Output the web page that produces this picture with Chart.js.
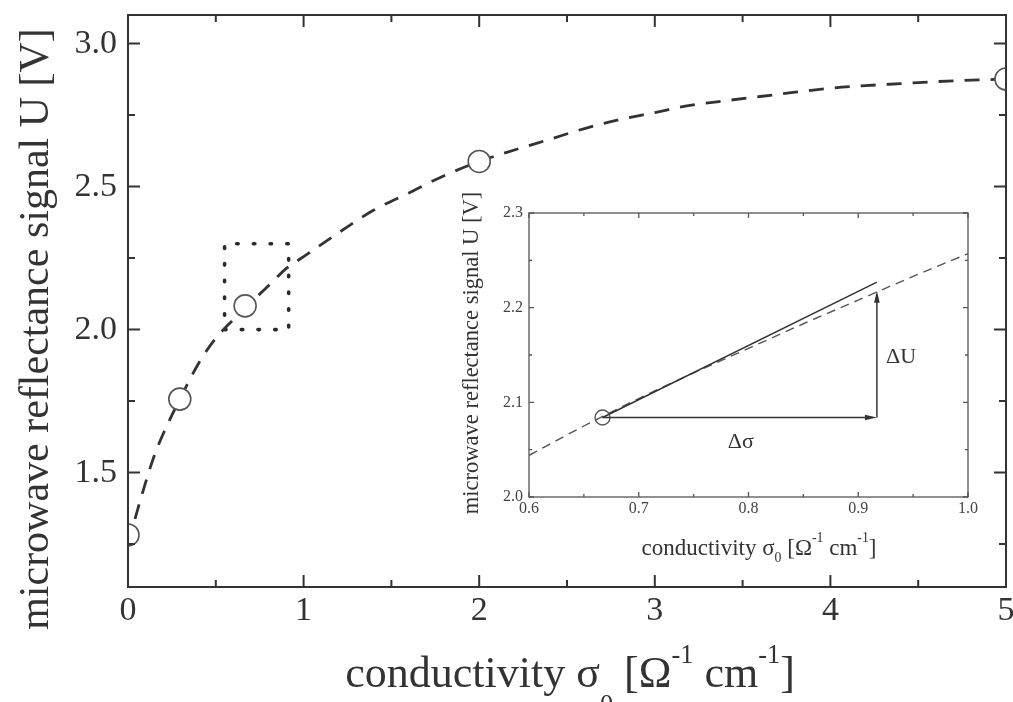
<!DOCTYPE html>
<html>
<head>
<meta charset="utf-8">
<script src="https://cdn.jsdelivr.net/npm/chart.js@4.4.1/dist/chart.umd.min.js"></script>
<style>
  html, body { margin: 0; padding: 0; background: #fff; }
  #wrap { position: relative; width: 1013px; height: 702px; overflow: hidden; }
  #main { position: absolute; left: 0; top: 0; }
  #inset { position: absolute; left: 455px; top: 180px; }
</style>
</head>
<body>
<div id="wrap">
  <canvas id="main" width="1013" height="702"></canvas>
  <canvas id="inset" width="540" height="395"></canvas>
</div>
<script>
/* ============================================================
   DATA
============================================================ */

// main panel: measured points
const pointX = [0.0, 0.295, 0.667, 2.0, 5.0];
const pointY = [1.282, 1.757, 2.083, 2.588, 2.876];

// main panel: dashed fit curve
const curveX = [0, 0.05, 0.1, 0.15, 0.2, 0.3, 0.4, 0.5, 0.6, 0.7, 0.8, 0.9, 1.0, 1.2, 1.4, 1.6, 1.8,
                2.0, 2.2, 2.4, 2.6, 2.8, 3.0, 3.2, 3.4, 3.6, 3.8, 4.0, 4.2, 4.4, 4.6, 4.8, 5.0];
const curveY = [1.25, 1.36, 1.465, 1.56, 1.635, 1.762, 1.88, 1.97, 2.035, 2.095, 2.153, 2.213, 2.255,
                2.339, 2.418, 2.478, 2.538, 2.588, 2.628, 2.665, 2.703, 2.734, 2.759, 2.784, 2.80,
                2.815, 2.83, 2.844, 2.853, 2.86, 2.867, 2.872, 2.876];

// main panel: dotted zoom box
const boxX = [0.55, 0.915, 0.915, 0.55, 0.55];
const boxY = [2.0, 2.0, 2.3, 2.3, 2.0];

// main panel ticks
const mainXMajor = [0, 1, 2, 3, 4, 5];
const mainXMinor = [0.5, 1.5, 2.5, 3.5, 4.5];
const mainYMajor = [1.5, 2.0, 2.5, 3.0];
const mainYMinor = [1.25, 1.75, 2.25, 2.75];

// inset: dashed curve, point, tangent, arrows
const insetCurveX = [0.6, 0.65, 0.7, 0.75, 0.8, 0.85, 0.9, 0.95, 1.0];
const insetCurveY = [2.044, 2.075, 2.104, 2.131, 2.157, 2.183, 2.208, 2.233, 2.257];
const insetPointX = [0.667];
const insetPointY = [2.084];
const tangentX = [0.667, 0.917];
const tangentY = [2.084, 2.227];
const dSigmaX = [0.667, 0.917];
const dSigmaY = [2.084, 2.084];
const dUX = [0.917, 0.917];
const dUY = [2.084, 2.218];
const insetLabels = [
  { text: 'Δσ', x: 0.793, y: 2.058 },
  { text: 'ΔU', x: 0.939, y: 2.148 },
];

// inset ticks
const insetXMajor = [0.6, 0.7, 0.8, 0.9, 1.0];
const insetXMinor = [0.65, 0.75, 0.85, 0.95];
const insetYMajor = [2.0, 2.1, 2.2, 2.3];
const insetYMinor = [2.05, 2.15, 2.25];

/* ============================================================
   HELPERS
============================================================ */
const SERIF = '"Liberation Serif", "Times New Roman", serif';
const INK = '#333';

const xy = (xs, ys) => xs.map((x, i) => ({ x, y: ys[i] }));

const xTitle = [
  { t: 'conductivity σ' }, { t: '0', s: 'sub' }, { t: ' [Ω' }, { t: '-1', s: 'sup' },
  { t: ' cm' }, { t: '-1', s: 'sup' }, { t: ']' }
];
const yTitle = [{ t: 'microwave reflectance signal U [V]' }];

// centred text with sub/superscripts, optional rotation
function richText(ctx, parts, x, y, size, rot, subDrop = 0.6) {
  ctx.save();
  ctx.translate(x, y);
  if (rot) ctx.rotate(rot);
  ctx.fillStyle = INK;
  ctx.textBaseline = 'alphabetic';
  ctx.textAlign = 'left';
  const fs = p => (p.s ? size * 0.6 : size);
  let w = 0;
  parts.forEach(p => { ctx.font = fs(p) + 'px ' + SERIF; w += ctx.measureText(p.t).width; });
  let cx = -w / 2;
  parts.forEach(p => {
    ctx.font = fs(p) + 'px ' + SERIF;
    const dy = p.s === 'sub' ? size * subDrop : p.s === 'sup' ? -size * 0.55 : 0;
    ctx.fillText(p.t, cx, dy);
    cx += ctx.measureText(p.t).width;
  });
  ctx.restore();
}

// box around the plot with inward ticks on all four sides
function framePlugin(o) {
  return {
    id: 'frame',
    afterDatasetsDraw(chart) {
      const { ctx, chartArea: a, scales: { x, y } } = chart;
      ctx.save();
      ctx.strokeStyle = o.color;
      ctx.lineWidth = o.width;
      ctx.beginPath();
      const tick = (vals, len, horiz) => vals.forEach(v => {
        if (horiz) {
          const p = x.getPixelForValue(v);
          ctx.moveTo(p, a.bottom); ctx.lineTo(p, a.bottom - len);
          ctx.moveTo(p, a.top); ctx.lineTo(p, a.top + len);
        } else {
          const p = y.getPixelForValue(v);
          ctx.moveTo(a.left, p); ctx.lineTo(a.left + len, p);
          ctx.moveTo(a.right, p); ctx.lineTo(a.right - len, p);
        }
      });
      tick(o.xMajor, o.major, true);
      tick(o.xMinor, o.minor, true);
      tick(o.yMajor, o.major, false);
      tick(o.yMinor, o.minor, false);
      ctx.stroke();
      ctx.strokeRect(a.left, a.top, a.right - a.left, a.bottom - a.top);
      ctx.restore();
    }
  };
}

function axis(min, max, ticks, fmt, size, pad, color, fit) {
  return {
    type: 'linear', min, max,
    grid: { display: false, drawTicks: false },
    border: { display: false },
    afterBuildTicks: s => { s.ticks = ticks.map(v => ({ value: v })); },
    ticks: { autoSkip: false, maxRotation: 0, padding: pad, color, font: { family: SERIF, size }, callback: fmt },
    afterFit: s => {
      fit(s);
      s.paddingLeft = s.paddingRight = s.paddingTop = s.paddingBottom = 0;
    }
  };
}

const baseOptions = {
  responsive: false,
  animation: false,
  events: [],
  plugins: { legend: { display: false }, tooltip: { enabled: false } },
};

/* ============================================================
   MAIN PANEL
============================================================ */
new Chart(document.getElementById('main'), {
  type: 'scatter',
  data: {
    datasets: [
      {
        data: xy(pointX, pointY), showLine: false,
        pointRadius: 11, pointBorderWidth: 1.6, pointBorderColor: '#555', pointBackgroundColor: '#fff',
        clip: 0, order: 0,
      },
      {
        data: xy(curveX, curveY), showLine: true,
        borderColor: INK, borderWidth: 2.8, borderDash: [15, 11],
        pointRadius: 0, cubicInterpolationMode: 'monotone', order: 1,
      },
      {
        data: xy(boxX, boxY), showLine: true,
        borderColor: '#2a2a2a', borderWidth: 3.6, borderDash: [1.5, 15.2], borderCapStyle: 'round',
        pointRadius: 0, tension: 0, order: 2,
      },
    ]
  },
  options: {
    ...baseOptions,
    layout: { autoPadding: false, padding: { left: 0, right: 7, top: 15, bottom: 0 } },
    scales: {
      x: axis(0, 5, mainXMajor, v => String(v), 34, 4, INK, s => { s.height = 115; }),
      y: axis(1.1, 3.1, mainYMajor, v => v.toFixed(1), 34, 11, INK, s => { s.width = 128; }),
    }
  },
  plugins: [
    framePlugin({ color: INK, width: 2, major: 12, minor: 7,
      xMajor: mainXMajor, xMinor: mainXMinor, yMajor: mainYMajor, yMinor: mainYMinor }),
    {
      id: 'titles',
      afterDraw(chart) {
        const ctx = chart.ctx;
        richText(ctx, yTitle, 48, 329, 42, -Math.PI / 2);
        richText(ctx, xTitle, 570, 687, 44, 0);
      }
    }
  ]
});

/* ============================================================
   INSET
============================================================ */
function arrow(ctx, x0, y0, x1, y1) {
  const ang = Math.atan2(y1 - y0, x1 - x0), c = Math.cos(ang), s = Math.sin(ang);
  const L = 12, W = 2.8;
  ctx.beginPath();
  ctx.moveTo(x0, y0);
  ctx.lineTo(x1 - c * L * 0.6, y1 - s * L * 0.6);
  ctx.stroke();
  ctx.beginPath();
  ctx.moveTo(x1, y1);
  ctx.lineTo(x1 - L * c - W * s, y1 - L * s + W * c);
  ctx.lineTo(x1 - L * c + W * s, y1 - L * s - W * c);
  ctx.closePath();
  ctx.fill();
}

new Chart(document.getElementById('inset'), {
  type: 'scatter',
  data: {
    datasets: [
      {
        data: xy(insetPointX, insetPointY), showLine: false,
        pointRadius: 7.5, pointBorderWidth: 1.4, pointBorderColor: '#555',
        pointBackgroundColor: 'rgba(0,0,0,0)', order: 0,
      },
      {
        data: xy(tangentX, tangentY), showLine: true,
        borderColor: INK, borderWidth: 1.5, pointRadius: 0, order: 1,
      },
      {
        data: xy(insetCurveX, insetCurveY), showLine: true,
        borderColor: '#555', borderWidth: 1.4, borderDash: [9, 6],
        pointRadius: 0, cubicInterpolationMode: 'monotone', order: 2,
      },
    ]
  },
  options: {
    ...baseOptions,
    layout: { autoPadding: false, padding: { left: 0, right: 27, top: 33, bottom: 0 } },
    scales: {
      x: axis(0.6, 1.0, insetXMajor, v => v.toFixed(1), 16, 2, '#444', s => { s.height = 78; }),
      y: axis(2.0, 2.3, insetYMajor, v => v.toFixed(1), 16, 6, '#444', s => { s.width = 74; }),
    }
  },
  plugins: [
    framePlugin({ color: '#555', width: 1.3, major: 5, minor: 3,
      xMajor: insetXMajor, xMinor: insetXMinor, yMajor: insetYMajor, yMinor: insetYMinor }),
    {
      id: 'annotations',
      afterDatasetsDraw(chart) {
        const { ctx, scales: { x, y } } = chart;
        ctx.save();
        ctx.strokeStyle = INK;
        ctx.fillStyle = INK;
        ctx.lineWidth = 1.5;
        arrow(ctx, x.getPixelForValue(dSigmaX[0]), y.getPixelForValue(dSigmaY[0]),
                   x.getPixelForValue(dSigmaX[1]), y.getPixelForValue(dSigmaY[1]));
        arrow(ctx, x.getPixelForValue(dUX[0]), y.getPixelForValue(dUY[0]),
                   x.getPixelForValue(dUX[1]), y.getPixelForValue(dUY[1]));
        ctx.font = '22px ' + SERIF;
        ctx.textAlign = 'center';
        ctx.textBaseline = 'middle';
        insetLabels.forEach(l => ctx.fillText(l.text, x.getPixelForValue(l.x), y.getPixelForValue(l.y)));
        ctx.restore();
      }
    },
    {
      id: 'titles',
      afterDraw(chart) {
        const ctx = chart.ctx;
        richText(ctx, yTitle, 23, 173, 22.5, -Math.PI / 2);
        richText(ctx, xTitle, 304, 375, 23, 0, 0.3);
      }
    }
  ]
});
</script>
</body>
</html>
